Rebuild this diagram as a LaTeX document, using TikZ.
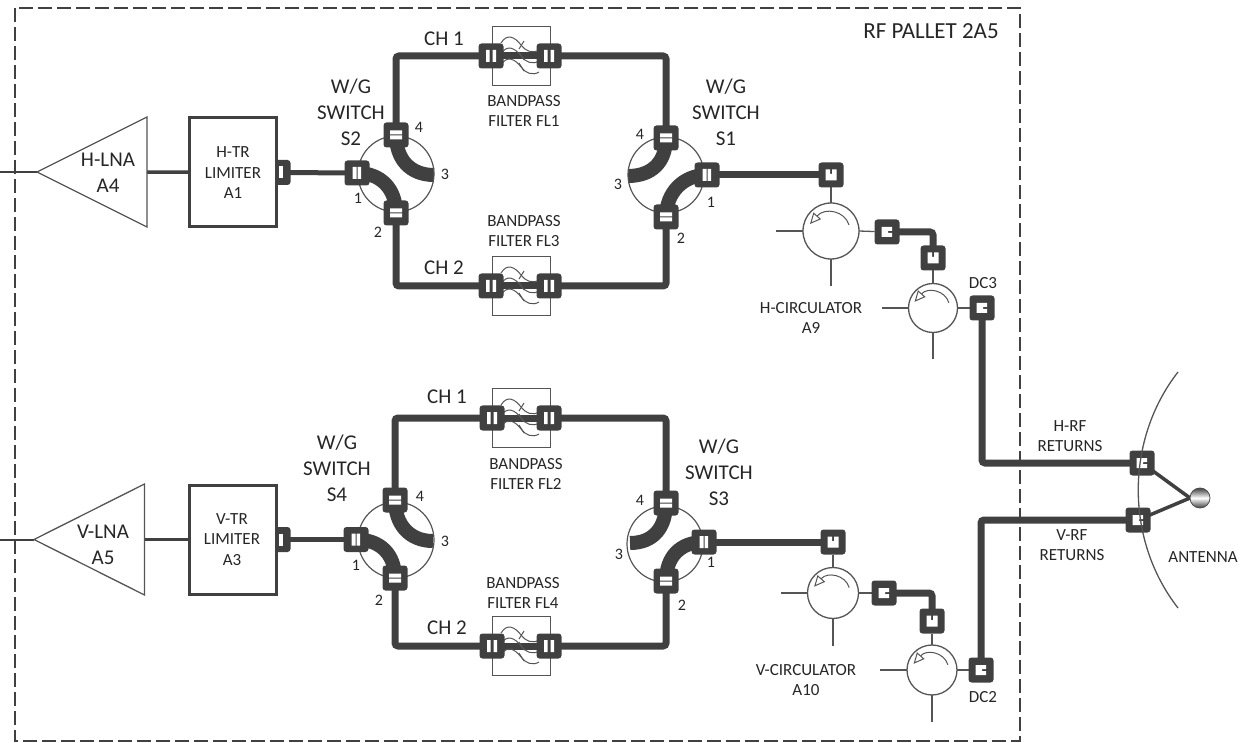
\documentclass[tikz,border=0pt]{standalone}
\usepackage{fontspec}
\setmainfont{Carlito}
\usepackage{tikz}
\usetikzlibrary{arrows.meta,backgrounds}
\definecolor{wgdark}{HTML}{404040}
\definecolor{wgthin}{HTML}{555555}
\definecolor{wgtext}{HTML}{262626}
\tikzset{
  flange/.style={rectangle, fill=wgdark, rounded corners=3pt, minimum size=25pt,
                 inner sep=0pt, outer sep=0pt},
  flangeH/.style={flange, path picture={\begin{scope}[shift={(path picture bounding box.center)}, sharp corners]
      \fill[white] (-5,-6) rectangle (-1.5,6) (1.5,-6) rectangle (5,6);\end{scope}}},
  flangeK/.style={flange, path picture={\begin{scope}[shift={(path picture bounding box.center)}, sharp corners]
      \fill[white] (-4.5,-6) rectangle (-0.5,6) (0.5,-6) rectangle (4,6);\end{scope}}},
  flangeV/.style={flange, path picture={\begin{scope}[shift={(path picture bounding box.center)}, sharp corners]
      \fill[white] (-6,-4.5) rectangle (6,-0.5) (-6,0.5) rectangle (6,4.5);\end{scope}}},
  flangeU/.style={flange, path picture={\begin{scope}[shift={(path picture bounding box.center)}, sharp corners]
      \fill[white] (-5.5,-5.5) rectangle (-1,5.5) (1,-5.5) rectangle (5.5,5.5) (-1,-1) rectangle (1,5.5);\end{scope}}},
  flangeC/.style={flange, path picture={\begin{scope}[shift={(path picture bounding box.center)}, sharp corners]
      \fill[white] (-5.5,-5) rectangle (5,-1) (-5.5,1) rectangle (5,5) (-5.5,-1) rectangle (1,1);\end{scope}}},
  flangeS/.style={flange, path picture={\begin{scope}[shift={(path picture bounding box.center)}, sharp corners]
      \fill[white] (1,-6) rectangle (5,6);\end{scope}}},
  wg/.style={wgdark, line width=7pt, rounded corners=3pt},
  wgbend/.style={wgdark, line width=14pt},
  feed/.style={wgdark, line width=3.5pt},
  thinline/.style={wgthin, line width=1.3pt},
  limiter/.style={rectangle, draw=wgdark, line width=3pt, fill=white, minimum width=87pt,
                  minimum height=109pt, inner sep=0pt, outer sep=0pt},
  filterbox/.style={rectangle, draw=wgthin, line width=1pt, minimum width=58pt,
                    minimum height=59pt, inner sep=0pt, outer sep=0pt},
  swcircle/.style={circle, draw=wgthin, line width=1.2pt, minimum size=76pt,
                   inner sep=0pt, outer sep=0pt},
  circulator/.style={circle, draw=wgthin, line width=1.3pt, minimum size=#1,
                     inner sep=0pt, outer sep=0pt},
  lblL/.style={text=wgtext, align=center, inner sep=0pt, font=\fontsize{21}{26}\selectfont},
  lblM/.style={text=wgtext, align=center, inner sep=0pt, font=\fontsize{17}{20.5}\selectfont},
  lblN/.style={text=wgtext, inner sep=0pt, font=\fontsize{16}{18}\selectfont}}

\begin{document}
\begin{tikzpicture}[x=1pt, y=-1pt]
  \useasboundingbox (0,0) rectangle (1243,743);
  \draw[wgdark, line width=2.5pt, dash pattern=on 14pt off 5pt] (15,8) rectangle (1020,741);
  % amplifiers, one for each polarisation
  \foreach \r/\tx/\ty/\bx/\bt/\bb in {h/37/172/147/117/227, v/34/539.5/144.5/484/595}{
    \coordinate (\r-tip) at (\tx,\ty);
    \coordinate (\r-bt) at (\bx,\bt);
    \coordinate (\r-bb) at (\bx,\bb);
    \coordinate (\r-bm) at (\bx,\ty);
    \coordinate (\r-in) at (0,\ty);
    \draw[thinline] (\r-tip) -- (\r-bt) -- (\r-bb) -- cycle;
    \draw[wgdark, line width=2pt] (\r-in) -- (\r-tip);}
  \node[flangeS] (h-st) at (278,172.5) {};
  \node[flangeS] (v-st) at (278,539.5) {};
  \node[limiter] (h-lim) at (233,172.5) {};
  \node[limiter] (v-lim) at (232.5,539.5) {};
  % switch bodies
  \foreach \n/\x/\y in {h-sl/396/174, h-sr/666/175, v-sl/396/540, v-sr/665/544}{
    \node[swcircle] (\n) at (\x,\y) {};}
  \foreach \n/\x/\y in {h-l3/434/175, h-r3/628/176, v-l3/433/541, v-r3/630/543}{
    \coordinate (\n) at (\x,\y);}
  % filters
  \foreach \n/\x/\y in {h-fa/521/56, h-fb/521/286, v-fa/521/418, v-fb/521/646}{
    \node[filterbox] (\n) at (\x,\y) {};
    \begin{scope}[shift={(\n.center)}]
      \foreach \d/\s in {0/-1, 11/1, 22/1}{
        \draw[wgthin, line width=1pt] (-20,\d-13) .. controls (-14,\d-23) and (-6,\d-19) .. (0,\d-11)
          .. controls (4,\d-5) and (12,\d-2) .. (18,\d-6);
        \draw[wgthin, line width=1pt] (-2,\d-11-4*\s) -- (3,\d-11+4*\s);}
    \end{scope}}
  % circulators
  \foreach \n/\x/\y/\d/\s in {h-ca/831/231/56/1, h-cb/933/308/49/0.88, v-ca/833/593/51/0.9, v-cb/932/670/50/0.88}{
    \node[circulator=\d pt] (\n) at (\x,\y) {};
    \coordinate (\n-w) at (\x-\d/2-27,\y);
    \coordinate (\n-s) at (\x,\y+\d/2+27);
    \draw[thinline] (\n.west) -- (\n-w);
    \draw[thinline] (\n.south) -- (\n-s);
    \begin{scope}[shift={(\n.center)}, scale=\s]
      \draw[wgthin, line width=1pt, -{Triangle[open, length=11pt, width=10pt]}]
        (18,-6) .. controls (14,-20) and (-6,-24) .. (-21,-7);
    \end{scope}}
  % flanges
  \foreach \n/\x/\y in {h-f1/491/56, h-f2/549/56, h-f3/491/286, h-f4/549/286,
                        v-f1/492/418, v-f2/549/418, v-f3/492/646, v-f4/549/646}{
    \node[flangeH] (\n) at (\x,\y) {};}
  \foreach \n/\x/\y in {h-l1/357/173, h-r1/707/175, v-l1/356/539.5, v-r1/704/542}{
    \node[flangeK] (\n) at (\x,\y) {};}
  \foreach \n/\x/\y in {h-l4/396/135, h-l2/396/213, h-r4/666/138, h-r2/666/217,
                        v-l4/395/500, v-l2/395/578, v-r4/666/503, v-r2/666/581}{
    \node[flangeV] (\n) at (\x,\y) {};}
  \foreach \n/\x/\y in {h-p1/831/175, h-p3/933/258, v-p1/833/542, v-p3/932/621}{
    \node[flangeU] (\n) at (\x,\y) {};}
  \foreach \n/\x/\y in {h-p2/887/232, h-p4/982/308, h-p5/1142/463, v-p2/884/593, v-p4/981/670, v-p5/1138/520}{
    \node[flangeC] (\n) at (\x,\y) {};}
  % antenna
  \coordinate (ant-t) at (1178,372);
  \coordinate (ant-b) at (1178,608);
  \draw[thinline] (ant-t) .. controls (1125,440) and (1125,540) .. (ant-b);
  \node[circle, draw=black!70, line width=0.8pt, minimum size=20pt, inner sep=0pt, outer sep=0pt,
        shading=axis, left color=black!75, right color=black!75, middle color=white, shading angle=0] (ball) at (1200,498) {};
  % connectors
  \begin{pgfonlayer}{background}
    \foreach \r in {h,v}{
      \draw[feed] (\r-bm) -- (\r-lim);
      \draw[wgdark, line width=5pt] (\r-st.center) -- (\r-l1.center);
      \draw[wg] (\r-l4.center) |- (\r-f1.center);
      \draw[wg] (\r-f1.center) -- (\r-f2.center);
      \draw[wg] (\r-f2.center) -| (\r-r4.center);
      \draw[wg] (\r-l2.center) |- (\r-f3.center);
      \draw[wg] (\r-f3.center) -- (\r-f4.center);
      \draw[wg] (\r-f4.center) -| (\r-r2.center);
      \draw[wgbend] (\r-l1.center) .. controls +(24,0) and +(0,-24) .. (\r-l2.center);
      \draw[wgbend] (\r-l4.center) .. controls +(0,24) and +(-24,0) .. (\r-l3);
      \draw[wgbend] (\r-r4.center) .. controls +(0,24) and +(24,0) .. (\r-r3);
      \draw[wgbend] (\r-r1.center) .. controls +(-24,0) and +(0,-24) .. (\r-r2.center);
      \draw[wg] (\r-r1.center) -- (\r-p1.center);
      \draw[thinline] (\r-p1) -- (\r-ca.north);
      \draw[thinline] (\r-ca.east) -- (\r-p2);
      \draw[wg] (\r-p2.center) -| (\r-p3.center);
      \draw[thinline] (\r-p3) -- (\r-cb.north);
      \draw[thinline] (\r-cb.east) -- (\r-p4);
      \draw[wg] (\r-p4.center) |- (\r-p5.center);
      \draw[feed] (\r-p5.center) -- (ball.west);}
  \end{pgfonlayer}
  % labels
  \foreach \n/\x/\y/\t in {t-s2/351/112/{W/G\\SWITCH\\S2}, t-s1/726/112/{W/G\\SWITCH\\S1},
      t-s4/337/468/{W/G\\SWITCH\\S4}, t-s3/719/472/{W/G\\SWITCH\\S3},
      t-lnah/108/172.5/{H-LNA\\A4}, t-lnav/103/544.5/{V-LNA\\A5},
      t-c11/444/39/{CH 1}, t-c12/444/268/{CH 2}, t-c21/447/397/{CH 1}, t-c22/447/628/{CH 2}}{
    \node[lblL] (\n) at (\x,\y) {\t};}
  \node[lblL, font=\fontsize{23}{26}\selectfont] (t-rf) at (931,31) {RF PALLET 2A5};
  \foreach \n/\x/\y/\t in {t-lh/233/173/{H-TR\\LIMITER\\A1}, t-lv/232/539.5/{V-TR\\LIMITER\\A3},
      t-fl1/524/111/{BANDPASS\\FILTER FL1}, t-fl3/524/231/{BANDPASS\\FILTER FL3},
      t-fl2/526/474/{BANDPASS\\FILTER FL2}, t-fl4/523/593/{BANDPASS\\FILTER FL4},
      t-ch/811/318/{H-CIRCULATOR\\A9}, t-cv/806/680/{V-CIRCULATOR\\A10},
      t-dc3/983/283/{DC3}, t-dc2/983/697/{DC2},
      t-hrf/1070/436/{H-RF\\RETURNS}, t-vrf/1072/545/{V-RF\\RETURNS}, t-ant/1203/557/{ANTENNA}}{
    \node[lblM] (\n) at (\x,\y) {\t};}
  \foreach \n/\x/\y/\t in {n-a4/419/127/4, n-a3/445/174/3, n-a1/358/198/1, n-a2/378/232/2,
      n-b4/640/134/4, n-b3/618/184/3, n-b1/711/202/1, n-b2/681/238/2,
      n-c4/420/496/4, n-c3/445/541/3, n-c1/356/565/1, n-c2/379/600/2,
      n-d4/640/500/4, n-d3/619/554/3, n-d1/711/562/1, n-d2/682/605/2}{
    \node[lblN] (\n) at (\x,\y) {\t};}
\end{tikzpicture}
\end{document}
